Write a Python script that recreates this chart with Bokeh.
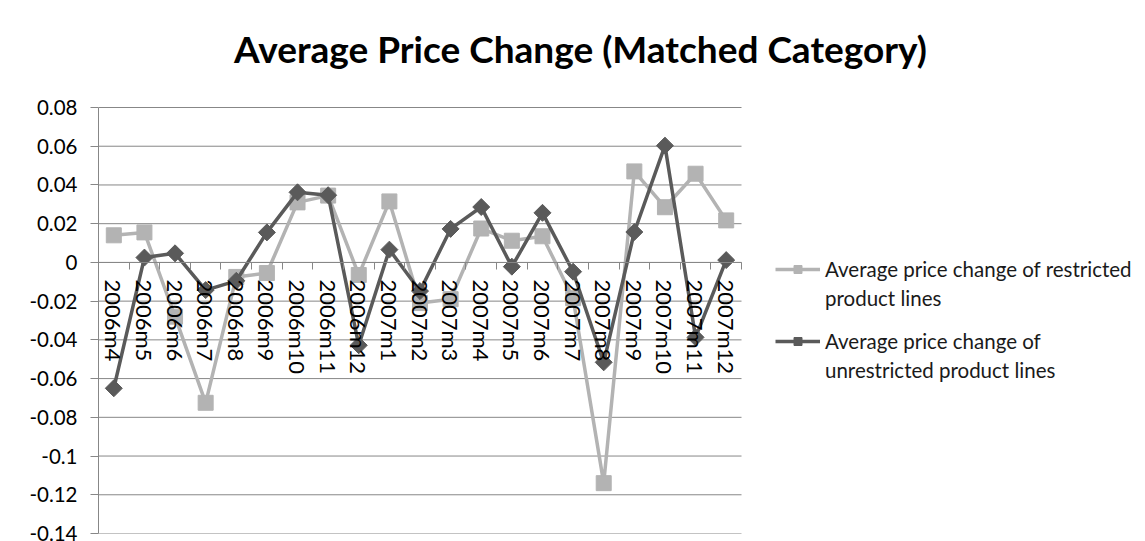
import math
from bokeh.plotting import figure
from bokeh.models import (Range1d, FixedTicker, CustomJSTickFormatter, Legend,
                          LegendItem, Label, LinearAxis, ColumnDataSource)
from bokeh.embed import file_html
from bokeh.resources import INLINE

# ---- data ----
months = ["2006m4", "2006m5", "2006m6", "2006m7", "2006m8", "2006m9", "2006m10",
          "2006m11", "2006m12", "2007m1", "2007m2", "2007m3", "2007m4", "2007m5",
          "2007m6", "2007m7", "2007m8", "2007m9", "2007m10", "2007m11", "2007m12"]
restricted = [0.014, 0.0155, -0.028, -0.0725, -0.0075, -0.0055, 0.031,
              0.0345, -0.0065, 0.0315, -0.021, -0.019, 0.0175, 0.0112,
              0.0135, -0.0185, -0.114, 0.047, 0.0285, 0.0458, 0.0217]
unrestricted = [-0.065, 0.0025, 0.0047, -0.0143, -0.0095, 0.0155, 0.0362,
                0.0347, -0.0428, 0.0066, -0.0148, 0.0173, 0.0286, -0.0022,
                0.0256, -0.0048, -0.0516, 0.0157, 0.0603, -0.0387, 0.0012]
y_ticks = [0.08, 0.06, 0.04, 0.02, 0.0, -0.02, -0.04, -0.06, -0.08, -0.1,
           -0.12, -0.14]
series_lines = [["Average price change of restricted", "product lines"],
                ["Average price change of", "unrestricted product lines"]]
title_text = "Average Price Change (Matched Category)"

# ---- layout / style ----
W, H = 1145, 541
LEFT, BOTTOM = 98, 8          # borders around the frame
PLOT_W, PLOT_TOP = 643, 107   # width of the category area, top of value area
LIGHT = "#B3B3B3"
DARK = "#5A5A5A"
GRID = "#878787"
FONT = "Lato"

n = len(months)
idx = list(range(n))
frame_w = W - LEFT
frame_h = H - BOTTOM
y_lo, y_hi = min(y_ticks), max(y_ticks)
px_per_unit = (frame_h - PLOT_TOP) / (y_hi - y_lo)
x_end = -0.5 + n * frame_w / PLOT_W
y_end = y_hi + PLOT_TOP / px_per_unit

src = ColumnDataSource(dict(x=idx, month=months, restricted=restricted,
                            unrestricted=unrestricted))

p = figure(x_range=Range1d(-0.5, x_end), y_range=Range1d(y_lo, y_end),
           width=W, height=H, output_backend="svg", toolbar_location=None,
           min_border_left=LEFT, min_border_right=0, min_border_top=0,
           min_border_bottom=BOTTOM, x_axis_location=None)
p.outline_line_color = None
p.background_fill_color = "white"
p.border_fill_color = "white"
p.xgrid.grid_line_color = None
p.ygrid.grid_line_color = None

# horizontal gridlines spanning the category area only
p.segment(x0=-0.5, x1=n - 0.5, y0=y_ticks, y1=y_ticks, line_color=GRID,
          line_width=1)

# y axis
yt = FixedTicker(ticks=y_ticks)
p.yaxis.ticker = yt
p.yaxis.bounds = (y_lo, y_hi)
p.yaxis.formatter = CustomJSTickFormatter(code="return String(Math.round(tick*100)/100);")
p.yaxis.axis_line_color = GRID
p.yaxis.major_tick_line_color = GRID
p.yaxis.major_tick_out = 8
p.yaxis.major_tick_in = 0
p.yaxis.minor_tick_line_color = None
p.yaxis.major_label_standoff = 13
p.yaxis.major_label_text_font = FONT
p.yaxis.major_label_text_font_size = "20.5px"
p.yaxis.major_label_text_color = "black"

# category axis crossing at zero: labels at the centres ...
xa = LinearAxis(fixed_location=0, bounds=(-0.5, n - 0.5),
                ticker=FixedTicker(ticks=idx),
                major_label_overrides={i: m for i, m in zip(idx, months)},
                axis_line_color=GRID, major_tick_line_color=None,
                minor_tick_line_color=None, major_tick_out=0, major_tick_in=0,
                major_label_orientation="vertical", major_label_standoff=17,
                major_label_text_font=FONT, major_label_text_font_size="22px",
                major_label_text_color="black")
p.add_layout(xa, "below")
# ... and tick marks between the categories
xb = LinearAxis(fixed_location=0, bounds=(-0.5, n - 0.5),
                ticker=FixedTicker(ticks=[i - 0.5 for i in idx] + [n - 0.5]),
                axis_line_color=None, major_tick_line_color=GRID,
                minor_tick_line_color=None, major_tick_out=7, major_tick_in=0,
                major_label_text_font_size="0px", major_label_text_alpha=0)
p.add_layout(xb, "below")

# series
l1 = p.line("x", "restricted", source=src, line_color=LIGHT, line_width=3.5)
m1 = p.scatter("x", "restricted", source=src, marker="square", size=15,
               fill_color=LIGHT, line_color=LIGHT)
l2 = p.line("x", "unrestricted", source=src, line_color=DARK, line_width=3.5)
m2 = p.scatter("x", "unrestricted", source=src, marker="square", size=12,
               angle=math.pi / 4, fill_color=DARK, line_color=DARK)
# empty, invisible renderer for the continuation lines of the legend labels
blank = p.line(x=[], y=[], line_alpha=0)

# legend: one block per series, glyph next to the first text line
for (first, second), rs, bottom in [(series_lines[0], [l1, m1], 223),
                                    (series_lines[1], [l2, m2], 151)]:
    lg = Legend(items=[LegendItem(label=first, renderers=rs),
                       LegendItem(label=second, renderers=[blank])],
                location=(775 - LEFT, bottom), padding=0, margin=0,
                border_line_color=None, background_fill_alpha=0,
                glyph_width=45, glyph_height=20, label_standoff=5, spacing=5,
                label_text_font=FONT, label_text_font_size="20.5px",
                label_text_color="#1a1a1a")
    p.add_layout(lg)

p.add_layout(Label(x=580 - LEFT, y=frame_h - 48, x_units="screen", y_units="screen",
                   text=title_text, text_font=FONT, text_font_style="bold",
                   text_font_size="37px", text_align="center",
                   text_baseline="alphabetic", text_color="black"))

open("out.html", "w").write(file_html(p, INLINE))
